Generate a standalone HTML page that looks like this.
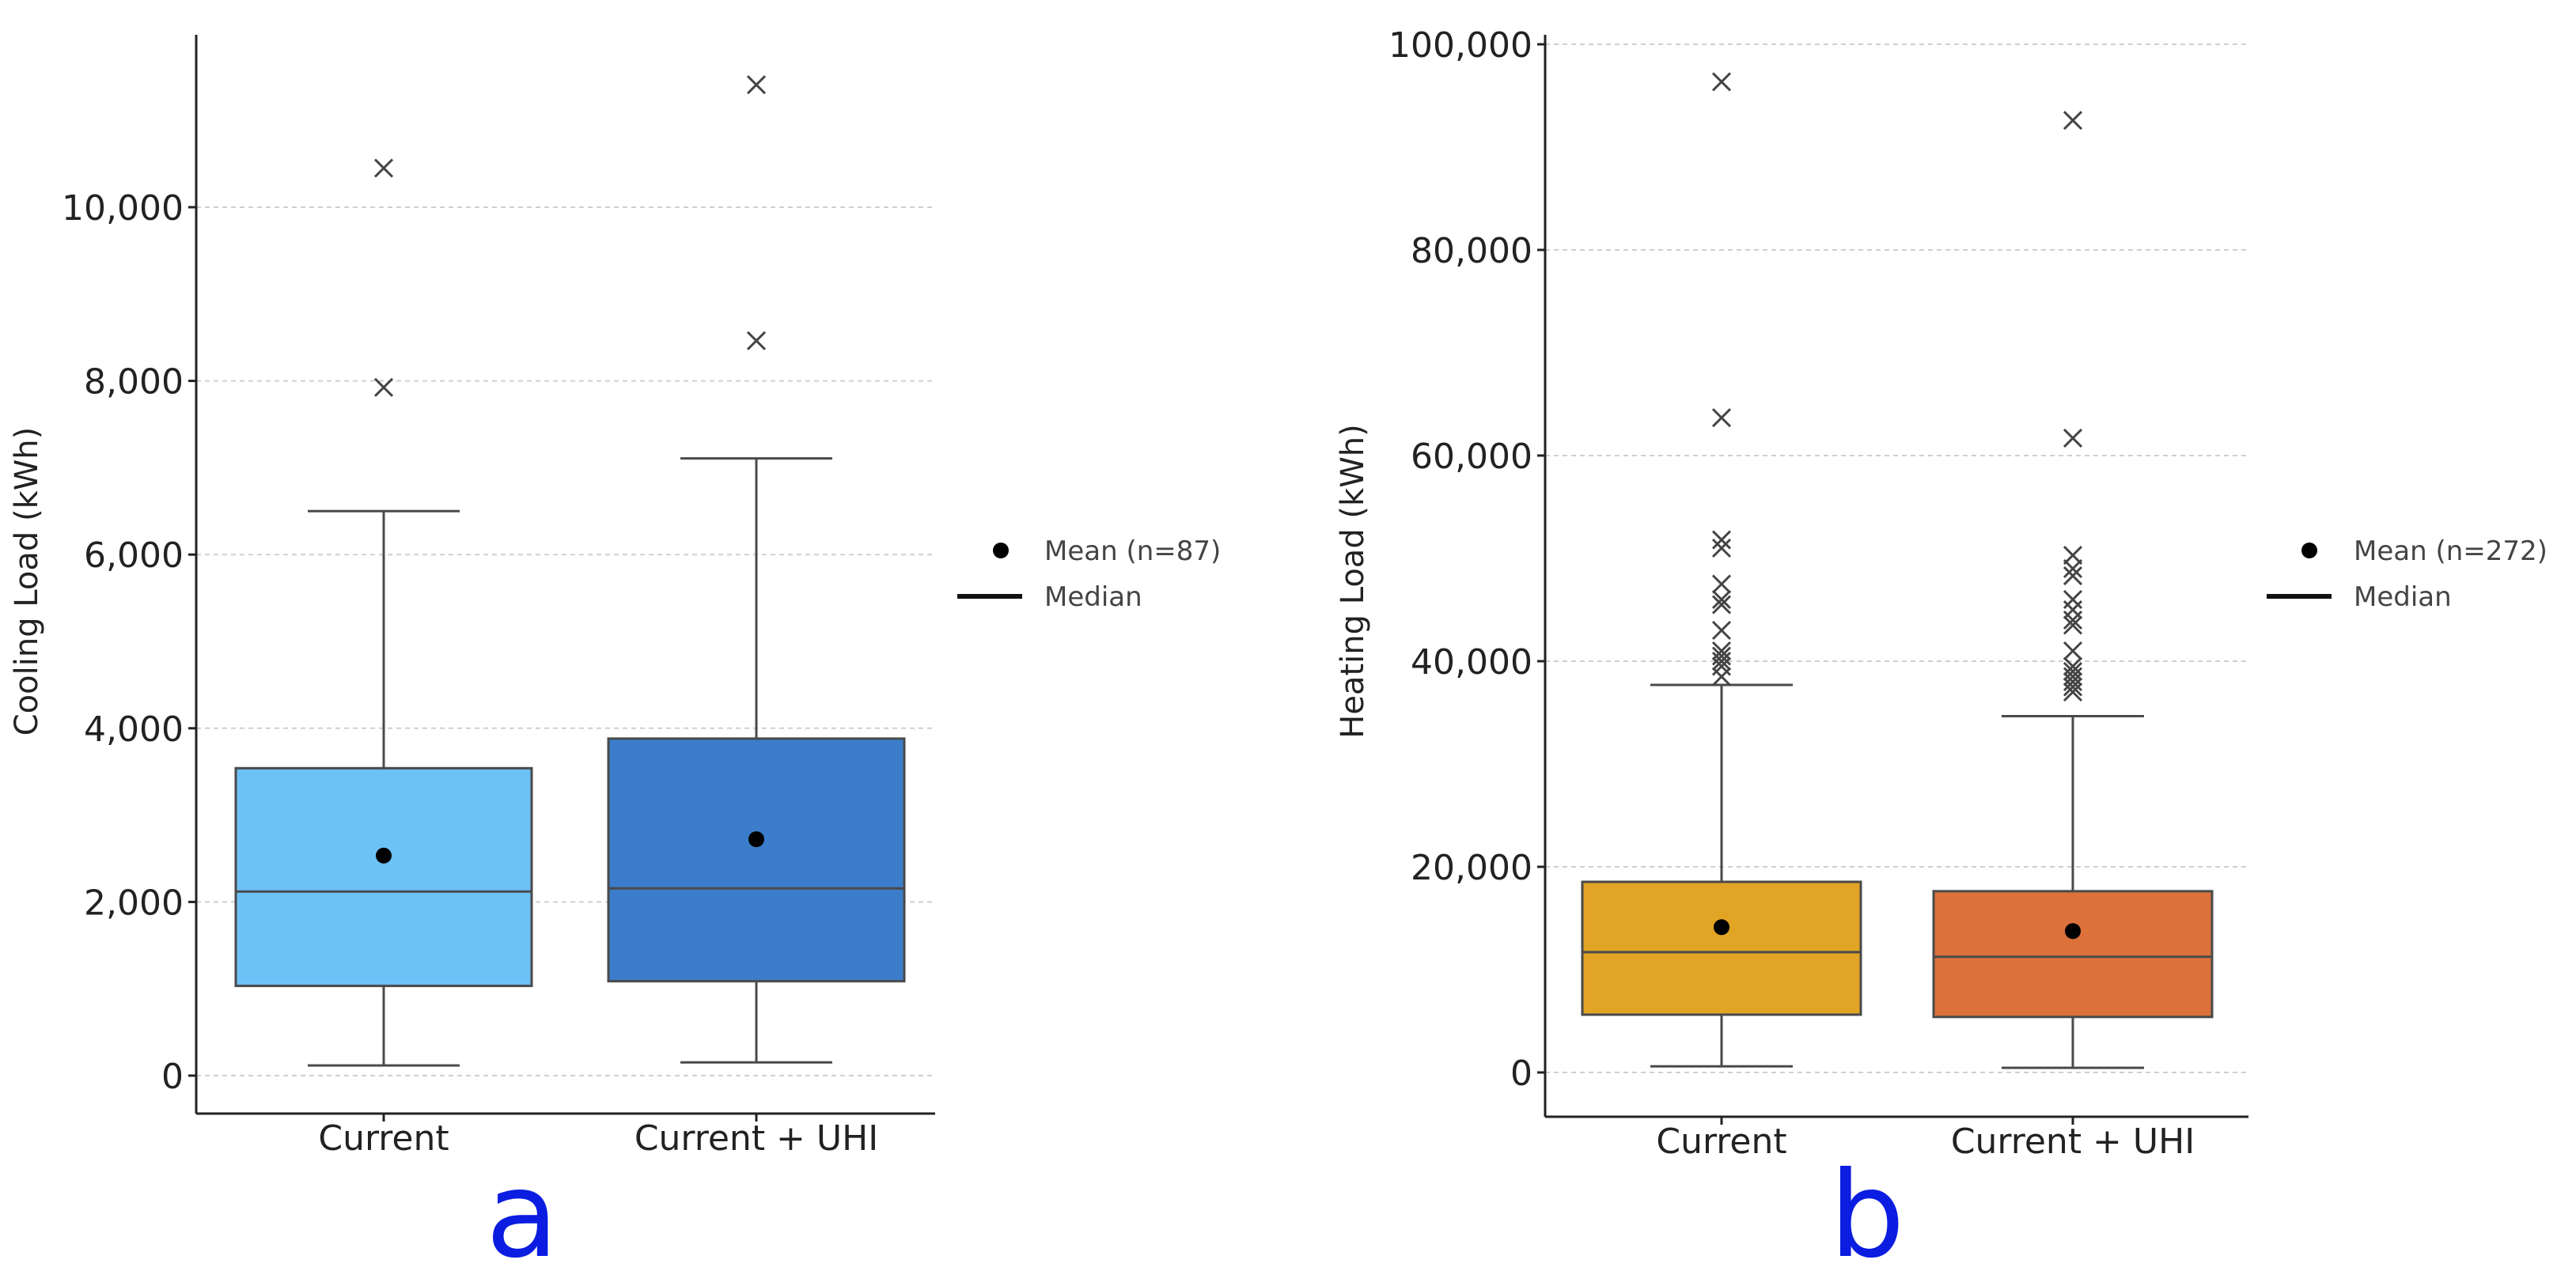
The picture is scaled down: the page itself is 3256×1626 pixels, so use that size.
<!DOCTYPE html>
<html><head><meta charset="utf-8"><style>
html,body{margin:0;padding:0;background:#fff;}
svg{display:block;}
text{font-family:"DejaVu Sans","Liberation Sans",sans-serif;}
</style></head><body>
<svg id="chart" width="3256" height="1626" viewBox="0 0 3256 1626" xmlns="http://www.w3.org/2000/svg"></svg>
<script>
// ---- Panel a data (Cooling) ----
const coolCategories = ["Current", "Current + UHI"];
const coolQ1 = [1033, 1087];
const coolQ3 = [3540, 3881];
const coolMedian = [2120, 2156];
const coolMean = [2534, 2722];
const coolWhiskerLow = [117, 153];
const coolWhiskerHigh = [6500, 7107];
const coolOutliers = [[10450, 7925], [11410, 8463]];
const coolTicks = [0, 2000, 4000, 6000, 8000, 10000];
const coolN = 87;
// ---- Panel b data (Heating) ----
const heatCategories = ["Current", "Current + UHI"];
const heatQ1 = [5620, 5400];
const heatQ3 = [18540, 17630];
const heatMedian = [11700, 11250];
const heatMean = [14130, 13750];
const heatWhiskerLow = [600, 450];
const heatWhiskerHigh = [37690, 34650];
const heatOutliers = [
  [96350, 63680, 51800, 51000, 47500, 46000, 45500, 43000, 41000, 40500, 40000, 39500, 38500],
  [92600, 61700, 50300, 49000, 48300, 46000, 45000, 44000, 43500, 41000, 39500, 39000, 38500, 38000, 37500, 37000]
];
const heatTicks = [0, 20000, 40000, 60000, 80000, 100000];
const heatN = 272;

const NS = "http://www.w3.org/2000/svg";
const svg = document.getElementById("chart");
function mk(tag, attrs, parent, txt) {
  const e = document.createElementNS(NS, tag);
  for (const k in attrs) e.setAttribute(k, attrs[k]);
  if (txt !== undefined) e.textContent = txt;
  (parent || svg).appendChild(e);
  return e;
}
function fmt(v){ return v.toLocaleString("en-US"); }

function panel(cfg) {
  const g = mk("g", {});
  
  
  const y = v => cfg.y0 - (v / cfg.vmax) * (cfg.y0 - cfg.yTop);
  const x = i => cfg.centers[i];
  cfg.ticks.forEach(t => {
    const gl = mk("line", {x1: cfg.axX, x2: cfg.axRight, y1: y(t), y2: y(t), stroke: "#cfcfcf", "stroke-width": 2, "stroke-dasharray": "6,5"}, g);
    
    
    mk("line", {x1: cfg.axX - 10, x2: cfg.axX, y1: y(t), y2: y(t), stroke: "#222", "stroke-width": 3}, g);
    const tl = mk("text", {x: cfg.axX - 16, y: y(t) + 16, "text-anchor": "end", "font-size": 44, fill: "#222"}, g, fmt(t));
    
    
  });
  const ya = mk("line", {x1: cfg.axX, x2: cfg.axX, y1: 44, y2: cfg.axBottom, stroke: "#222", "stroke-width": 3}, g);
  
  
  const xa = mk("line", {x1: cfg.axX, x2: cfg.axRight, y1: cfg.axBottom, y2: cfg.axBottom, stroke: "#222", "stroke-width": 3}, g);
  
  
  const yt = mk("text", {x: cfg.ylabX, y: 735, "text-anchor": "middle", "font-size": 40, fill: "#222", transform: `rotate(-90 ${cfg.ylabX} 735)`}, g, cfg.ylabel);
  
  
  cfg.cats.forEach((c, i) => {
    const cx = x(i), hw = cfg.boxHalf, cw = cfg.capHalf;
    mk("line", {x1: cx, x2: cx, y1: cfg.axBottom, y2: cfg.axBottom + 10, stroke: "#222", "stroke-width": 3}, g);
    const xl = mk("text", {x: cx, y: cfg.axBottom + 46, "text-anchor": "middle", "font-size": 44, fill: "#222"}, g, c);
    
    
    const w1 = mk("line", {x1: cx, x2: cx, y1: y(cfg.wh[i]), y2: y(cfg.q3[i]), stroke: "#4a4a4a", "stroke-width": 3}, g);
    
    
    const w2 = mk("line", {x1: cx, x2: cx, y1: y(cfg.q1[i]), y2: y(cfg.wl[i]), stroke: "#4a4a4a", "stroke-width": 3}, g);
    
    
    const c1 = mk("line", {x1: cx - cw, x2: cx + cw, y1: y(cfg.wh[i]), y2: y(cfg.wh[i]), stroke: "#4a4a4a", "stroke-width": 3}, g);
    
    
    const c2 = mk("line", {x1: cx - cw, x2: cx + cw, y1: y(cfg.wl[i]), y2: y(cfg.wl[i]), stroke: "#4a4a4a", "stroke-width": 3}, g);
    
    
    const b = mk("rect", {x: cx - hw, width: 2 * hw, y: y(cfg.q3[i]), height: y(cfg.q1[i]) - y(cfg.q3[i]), fill: cfg.colors[i], stroke: "#4a4a4a", "stroke-width": 3}, g);
    
    
    const md = mk("line", {x1: cx - hw, x2: cx + hw, y1: y(cfg.med[i]), y2: y(cfg.med[i]), stroke: "#4a4a4a", "stroke-width": 3}, g);
    
    
    const mn = mk("circle", {cx: cx, cy: y(cfg.mean[i]), r: 10, fill: "#000"}, g);
    
    
    cfg.out[i].forEach(v => {
      const s = 11, yy = y(v);
      const o = mk("path", {d: `M${cx-s},${yy-s}L${cx+s},${yy+s}M${cx-s},${yy+s}L${cx+s},${yy-s}`, stroke: "#444", "stroke-width": 3, fill: "none"}, g);
      
      
    });
  });
  const lg = mk("g", {}, g);
  
  
  mk("circle", {cx: cfg.legDot, cy: 696, r: 10, fill: "#000"}, lg);
  mk("text", {x: cfg.legText, y: 708, "font-size": 34, fill: "#444"}, lg, `Mean (n=${cfg.n})`);
  mk("line", {x1: cfg.legLine[0], x2: cfg.legLine[1], y1: 754, y2: 754, stroke: "#111", "stroke-width": 6}, lg);
  mk("text", {x: cfg.legText, y: 766, "font-size": 34, fill: "#444"}, lg, "Median");
  const pl = mk("text", {x: cfg.letterX, y: 1588, "text-anchor": "middle", "font-size": 150, fill: "#0b1de0", "font-family": "Liberation Sans, sans-serif"}, g, cfg.letter);
  
  
}

panel({name: "panel-a-cooling", cats: coolCategories, q1: coolQ1, q3: coolQ3, med: coolMedian, mean: coolMean,
  wl: coolWhiskerLow, wh: coolWhiskerHigh, out: coolOutliers, ticks: coolTicks, n: coolN,
  vmax: 10000, y0: 1360, yTop: 262, axX: 248, axRight: 1182, axBottom: 1408, centers: [485, 956],
  boxHalf: 187, capHalf: 96, colors: ["#6cc1f7", "#3b7dca"], ylabel: "Cooling Load (kWh)", ylabX: 47,
  legDot: 1265, legText: 1320, legLine: [1210, 1292], letter: "a", letterX: 660});
panel({name: "panel-b-heating", cats: heatCategories, q1: heatQ1, q3: heatQ3, med: heatMedian, mean: heatMean,
  wl: heatWhiskerLow, wh: heatWhiskerHigh, out: heatOutliers, ticks: heatTicks, n: heatN,
  vmax: 100000, y0: 1356, yTop: 56, axX: 1953, axRight: 2842, axBottom: 1412, centers: [2176, 2620],
  boxHalf: 176, capHalf: 90, colors: ["#e1a424", "#dc713b"], ylabel: "Heating Load (kWh)", ylabX: 1723,
  legDot: 2919, legText: 2975, legLine: [2865, 2947], letter: "b", letterX: 2360});
</script>
</body></html>
